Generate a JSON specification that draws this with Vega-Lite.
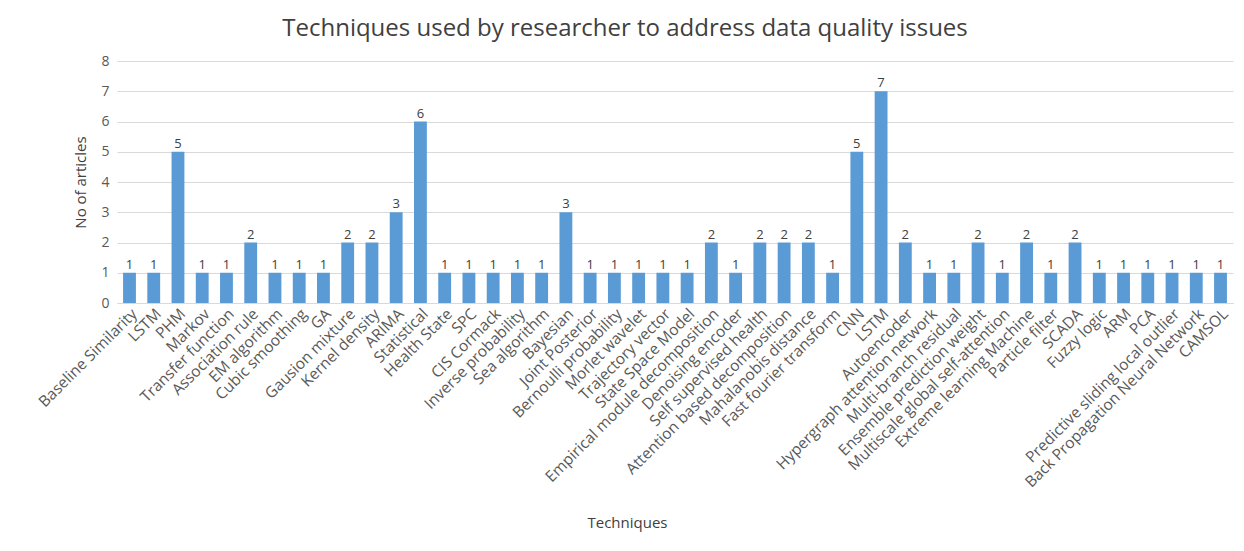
{
  "$schema": "https://vega.github.io/schema/vega-lite/v6.json",
  "autosize": "none",
  "width": 1116,
  "height": 242,
  "padding": {"left": 117, "top": 61, "right": 11, "bottom": 248},
  "background": "white",
  "config": {"font": "Open Sans", "view": {"stroke": null}},
  "title": {
    "text": "Techniques used by researcher to address data quality issues",
    "fontSize": 24,
    "font": "Open Sans",
    "fontWeight": "normal",
    "color": "#404040",
    "anchor": "middle",
    "frame": "group",
    "dx": -50,
    "offset": 13
  },
  "data": {
    "values": [
      {"technique": "Baseline Similarity", "articles": 1},
      {"technique": "LSTM", "articles": 1},
      {"technique": "PHM", "articles": 5},
      {"technique": "Markov", "articles": 1},
      {"technique": "Transfer function", "articles": 1},
      {"technique": "Association rule", "articles": 2},
      {"technique": "EM algorithm", "articles": 1},
      {"technique": "Cubic smoothing", "articles": 1},
      {"technique": "GA", "articles": 1},
      {"technique": "Gausion mixture", "articles": 2},
      {"technique": "Kernel density", "articles": 2},
      {"technique": "ARIMA", "articles": 3},
      {"technique": "Statistical", "articles": 6},
      {"technique": "Health State", "articles": 1},
      {"technique": "SPC", "articles": 1},
      {"technique": "CIS Cormack", "articles": 1},
      {"technique": "Inverse probability", "articles": 1},
      {"technique": "Sea algorithm", "articles": 1},
      {"technique": "Bayesian", "articles": 3},
      {"technique": "Joint Posterior", "articles": 1},
      {"technique": "Bernoulli probability", "articles": 1},
      {"technique": "Morlet wavelet", "articles": 1},
      {"technique": "Trajectory vector", "articles": 1},
      {"technique": "State Space Model", "articles": 1},
      {"technique": "Empirical module decomposition", "articles": 2},
      {"technique": "Denoising encoder", "articles": 1},
      {"technique": "Self supervised health", "articles": 2},
      {"technique": "Attention based decomposition", "articles": 2},
      {"technique": "Mahalanobis distance", "articles": 2},
      {"technique": "Fast fourier transform", "articles": 1},
      {"technique": "CNN", "articles": 5},
      {"technique": "LSTM\u200b", "articles": 7},
      {"technique": "Autoencoder", "articles": 2},
      {"technique": "Hypergraph attention network", "articles": 1},
      {"technique": "Multi-branch residual", "articles": 1},
      {"technique": "Ensemble prediction  weight", "articles": 2},
      {"technique": "Multiscale global self-attention", "articles": 1},
      {"technique": "Extreme learning Machine", "articles": 2},
      {"technique": "Particle filter", "articles": 1},
      {"technique": "SCADA", "articles": 2},
      {"technique": "Fuzzy logic", "articles": 1},
      {"technique": "ARM", "articles": 1},
      {"technique": "PCA", "articles": 1},
      {"technique": "Predictive sliding local outlier", "articles": 1},
      {"technique": "Back Propagation Neural Network", "articles": 1},
      {"technique": "CAMSOL", "articles": 1}
    ]
  },
  "encoding": {
    "x": {
      "field": "technique",
      "type": "nominal",
      "sort": null,
      "scale": {"paddingInner": 0.47, "paddingOuter": 0.25},
      "axis": {
        "title": "Techniques",
        "titleFontSize": 15,
        "titleFontWeight": "normal",
        "titleColor": "#404040",
        "titleFont": "Open Sans",
        "titleX": 510,
        "titleY": 212,
        "labelAngle": -45,
        "labelFontSize": 15.5,
        "labelColor": "#595959",
        "labelFont": "Open Sans",
        "labelPadding": 3,
        "labelOverlap": false,
        "labelLimit": 400,
        "ticks": false,
        "domainColor": "#d9d9d9",
        "grid": false
      }
    },
    "y": {
      "field": "articles",
      "type": "quantitative",
      "scale": {"domain": [0, 8]},
      "axis": {
        "title": "No of articles",
        "titleFontSize": 15,
        "titleFontWeight": "normal",
        "titleColor": "#404040",
        "titleFont": "Open Sans",
        "titlePadding": 12,
        "values": [0, 1, 2, 3, 4, 5, 6, 7, 8],
        "labelOverlap": false,
        "labelFontSize": 14,
        "labelColor": "#595959",
        "labelFont": "Open Sans",
        "labelPadding": 8,
        "domain": false,
        "ticks": false,
        "gridColor": "#d9d9d9"
      }
    }
  },
  "layer": [
    {"mark": {"type": "bar", "color": "#5b9bd5"}},
    {
      "mark": {"type": "text", "dy": -8, "fontSize": 13, "color": "#404040", "font": "Open Sans"},
      "encoding": {"text": {"field": "articles", "type": "quantitative"}}
    }
  ]
}
